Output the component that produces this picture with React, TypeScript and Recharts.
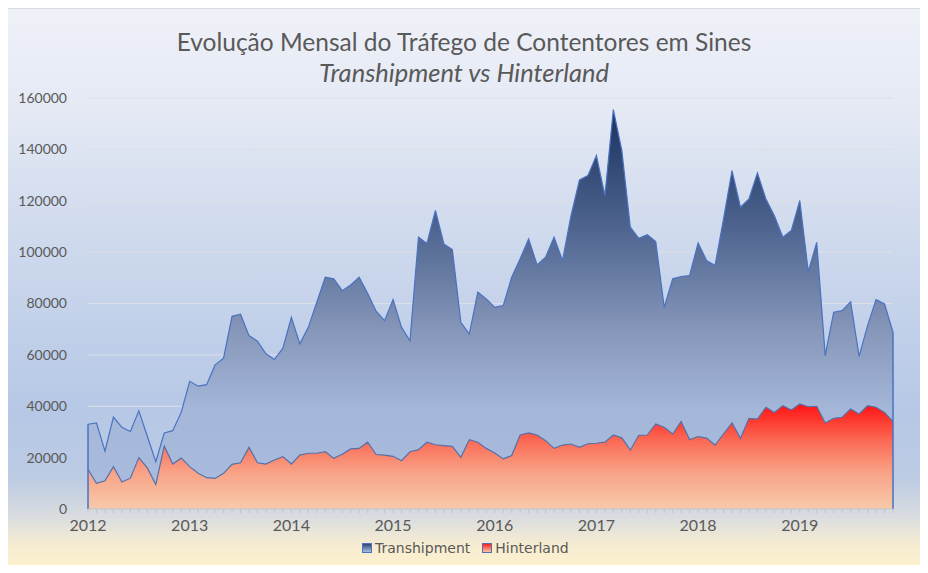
import React from "react";
import { Area, AreaChart, CartesianGrid, ReferenceLine, XAxis, YAxis } from "recharts";

const years = [2012, 2013, 2014, 2015, 2016, 2017, 2018, 2019];
const months = years.flatMap((y) =>
  Array.from({ length: 12 }, (_, m) => `${y}-${String(m + 1).padStart(2, "0")}`)
);

const yTicks = [0, 20000, 40000, 60000, 80000, 100000, 120000, 140000, 160000];

const transhipment = [
  33000, 33500, 22500, 35800, 31800, 30200, 38200, 28300, 18400, 29600, 30500, 37600,
  49700, 47800, 48400, 56100, 58700, 75000, 75800, 67500, 65300, 60400, 58200, 62600,
  74600, 64300, 70700, 80500, 90200, 89600, 85000, 87200, 90200, 84000, 77000, 73300,
  81500, 70700, 65500, 105800, 103400, 116200, 103200, 101000, 72700, 68100, 84400, 81800,
  78500, 79200, 90200, 97400, 105100, 95000, 98000, 105800, 96700, 114200, 128100, 129800,
  137600, 122000, 155500, 139500, 109700, 105400, 106800, 104100, 78500, 89600, 90500, 90900,
  103600, 96700, 94800, 112900, 131700, 117500, 120700, 130800, 120700, 114200, 105800, 108400,
  120100, 92400, 103800, 59700, 76600, 77200, 80700, 59400, 71400, 81500, 79800, 68800,
];

const hinterland = [
  15500, 10000, 11000, 16500, 10500, 12000, 20000, 16000, 9500, 24500, 17500, 19800,
  16500, 13900, 12200, 11900, 13900, 17400, 18000, 24000, 18000, 17500, 19100, 20400,
  17500, 21000, 21700, 21700, 22300, 19700, 21300, 23400, 23600, 26000, 21200, 21000,
  20500, 18800, 22300, 23100, 26000, 25000, 24700, 24400, 20100, 27000, 26000, 23600,
  21800, 19500, 20800, 28800, 29600, 28800, 26600, 23600, 24900, 25300, 24000, 25400,
  25600, 26000, 28800, 27700, 22900, 28700, 28800, 33100, 31800, 29200, 34100, 27000,
  28200, 27600, 24900, 29200, 33500, 27500, 35300, 35000, 39600, 37600, 40200, 38500,
  40900, 39800, 40000, 33500, 35300, 35700, 38900, 37000, 40200, 39600, 37600, 34000,
];

const data = months.map((month, i) => ({
  month,
  transhipment: transhipment[i],
  hinterland: hinterland[i],
}));

const textColor = "#595959";
const font = "Lato, 'Open Sans', sans-serif";
const lastMonth = months[months.length - 1];

function LegendItem({ label, gradient, border }: { label: string; gradient: string; border: string }) {
  return (
    <span style={{ display: "inline-flex", alignItems: "center", marginRight: 12 }}>
      <span
        style={{
          width: 8,
          height: 8,
          border: `1px solid ${border}`,
          background: gradient,
          marginRight: 3,
          display: "inline-block",
        }}
      />
      {label}
    </span>
  );
}

export default function App() {
  return (
    <div style={{ position: "relative", width: 928, height: 573, margin: -8, fontFamily: font }}>
      <div
        style={{
          position: "absolute",
          left: 6,
          top: 8,
          width: 914,
          height: 558,
          border: "1px solid #d9d9d9",
          background:
            "linear-gradient(to bottom, #eff1f8 0%, #e4e9f4 18%, #cbd7ec 45%, #b6c8e6 72%, #bccbe3 84%, #d9dcdf 91%, #f6ecd2 96%, #fdf1cc 100%)",
        }}
      />
      <div
        style={{
          position: "absolute",
          top: 27,
          width: 928,
          textAlign: "center",
          color: textColor,
          lineHeight: "30px",
        }}
      >
        <div style={{ fontSize: 24.5 }}>Evolução Mensal do Tráfego de Contentores em Sines</div>
        <div style={{ fontSize: 25.5, fontStyle: "italic" }}>Transhipment vs Hinterland</div>
      </div>
      <div style={{ position: "absolute", left: 0, top: 0 }}>
        <AreaChart width={928} height={573} data={data} margin={{ top: 98, right: 35, bottom: 34, left: 8 }}>
          <defs>
            <linearGradient id="gradTrans" x1="0" y1="0" x2="0" y2="1">
              <stop offset="0%" stopColor="#1b325f" />
              <stop offset="30%" stopColor="#4f6590" />
              <stop offset="55%" stopColor="#8596b9" />
              <stop offset="75%" stopColor="#a5b7d9" />
              <stop offset="100%" stopColor="#aabddf" />
            </linearGradient>
            <linearGradient id="gradHint" x1="0" y1="0" x2="0" y2="1">
              <stop offset="0%" stopColor="#ff1212" />
              <stop offset="35%" stopColor="#fb6a55" />
              <stop offset="65%" stopColor="#f8a286" />
              <stop offset="100%" stopColor="#f7caab" />
            </linearGradient>
          </defs>
          <CartesianGrid vertical={false} stroke="#dcdfe6" />
          <XAxis
            dataKey="month"
            interval={0}
            tickFormatter={(v: string) => (v.endsWith("-01") ? v.slice(0, 4) : "")}
            stroke="#bfc3cb"
            tickSize={4}
            tick={{ fill: textColor, fontSize: 16, fontFamily: font }}
            tickMargin={7}
          />
          <YAxis
            domain={[0, 160000]}
            ticks={yTicks}
            width={80}
            axisLine={false}
            tickLine={false}
            tickMargin={15}
            tick={{ fill: textColor, fontSize: 14, fontFamily: font }}
          />
          <Area
            type="linear"
            dataKey="transhipment"
            name="Transhipment"
            stroke="#4a72c0"
            strokeWidth={1.2}
            fill="url(#gradTrans)"
            fillOpacity={1}
            isAnimationActive={false}
          />
          <Area
            type="linear"
            dataKey="hinterland"
            name="Hinterland"
            stroke="#5570a8"
            strokeWidth={1.2}
            fill="url(#gradHint)"
            fillOpacity={1}
            isAnimationActive={false}
          />
          <ReferenceLine
            segment={[
              { x: months[0], y: 0 },
              { x: months[0], y: transhipment[0] },
            ]}
            stroke="#4a72c0"
            strokeWidth={1.5}
          />
          <ReferenceLine
            segment={[
              { x: lastMonth, y: 0 },
              { x: lastMonth, y: transhipment[transhipment.length - 1] },
            ]}
            stroke="#4a72c0"
            strokeWidth={1.5}
          />
        </AreaChart>
      </div>
      <div
        style={{
          position: "absolute",
          top: 540,
          left: 362,
          color: textColor,
          fontSize: 14,
          fontFamily: "'DejaVu Sans', sans-serif",
          display: "flex",
        }}
      >
        <LegendItem label="Transhipment" gradient="linear-gradient(#2c4777, #a9bcdd)" border="#4a72c0" />
        <LegendItem label="Hinterland" gradient="linear-gradient(#ff2020, #f7c4a6)" border="#5570a8" />
      </div>
    </div>
  );
}
